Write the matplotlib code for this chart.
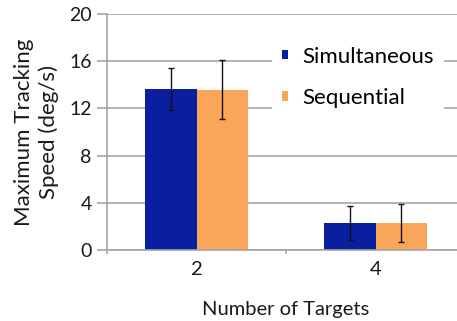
import matplotlib.pyplot as plt
import numpy as np

# Datos
categorias = ['2', '4']
simultaneo = [13.65, 2.3]
simultaneo_err = [1.75, 1.42]
secuencial = [13.6, 2.27]
secuencial_err = [2.5, 1.6]

plt.rcParams['font.family'] = ['Lato', 'DejaVu Sans']

fig = plt.figure(figsize=(4.57, 3.21), dpi=100)
ax = fig.add_axes([107 / 457, 71 / 321, 358 / 457, 236 / 321])

x = np.arange(len(categorias))
w = 0.285
gris = '#a6a6a6'
texto = '#1a1a1a'

ax.bar(x - w / 2, simultaneo, w, color='#0a1ea0', label='Simultaneous', zorder=2)
ax.bar(x + w / 2, secuencial, w, color='#f9a65a', label='Sequential', zorder=2)
ax.errorbar(x - w / 2, simultaneo, yerr=simultaneo_err, fmt='none', ecolor='#111111',
            elinewidth=1, capsize=2.5, capthick=1, zorder=3)
ax.errorbar(x + w / 2, secuencial, yerr=secuencial_err, fmt='none', ecolor='#111111',
            elinewidth=1, capsize=2.5, capthick=1, zorder=3)

ax.set_ylim(0, 20)
ax.set_yticks([0, 4, 8, 12, 16, 20])
ax.set_xlim(-0.5, 1.5)
ax.set_xticks(x)
ax.set_xticklabels(categorias)
ax.set_xticks([-0.5, 0.5, 1.5], minor=True)
ax.tick_params(axis='x', which='major', length=0, pad=8, labelsize=14.5, labelcolor=texto)
ax.tick_params(axis='x', which='minor', length=3, color=gris, width=1.2)
ax.tick_params(axis='y', length=7, color=gris, width=1.2, pad=4, labelsize=14, labelcolor=texto)

ax.grid(axis='y', color=gris, linewidth=1.2, zorder=0)
ax.set_axisbelow(True)
for s in ['top', 'right']:
    ax.spines[s].set_visible(False)
for s in ['left', 'bottom']:
    ax.spines[s].set_color(gris)
    ax.spines[s].set_linewidth(1.2)

ax.set_ylabel('Maximum Tracking\nSpeed (deg/s)', fontsize=16, color=texto, labelpad=7,
              linespacing=1.3)
ax.set_xlabel('Number of Targets', fontsize=14.5, color=texto, labelpad=16.5)

leg = ax.legend(loc='upper left', frameon=True, fontsize=16, handlelength=0.25, handleheight=0.25,
                handletextpad=0.65, labelspacing=0.95, borderpad=0.45, fancybox=False,
                borderaxespad=0)
leg.get_frame().set_facecolor('white')
leg.get_frame().set_edgecolor('none')
leg.get_frame().set_alpha(1)
leg.set_bbox_to_anchor((272 / 457, 0.885), transform=fig.transFigure)

fig.savefig('out.png', dpi=100)
